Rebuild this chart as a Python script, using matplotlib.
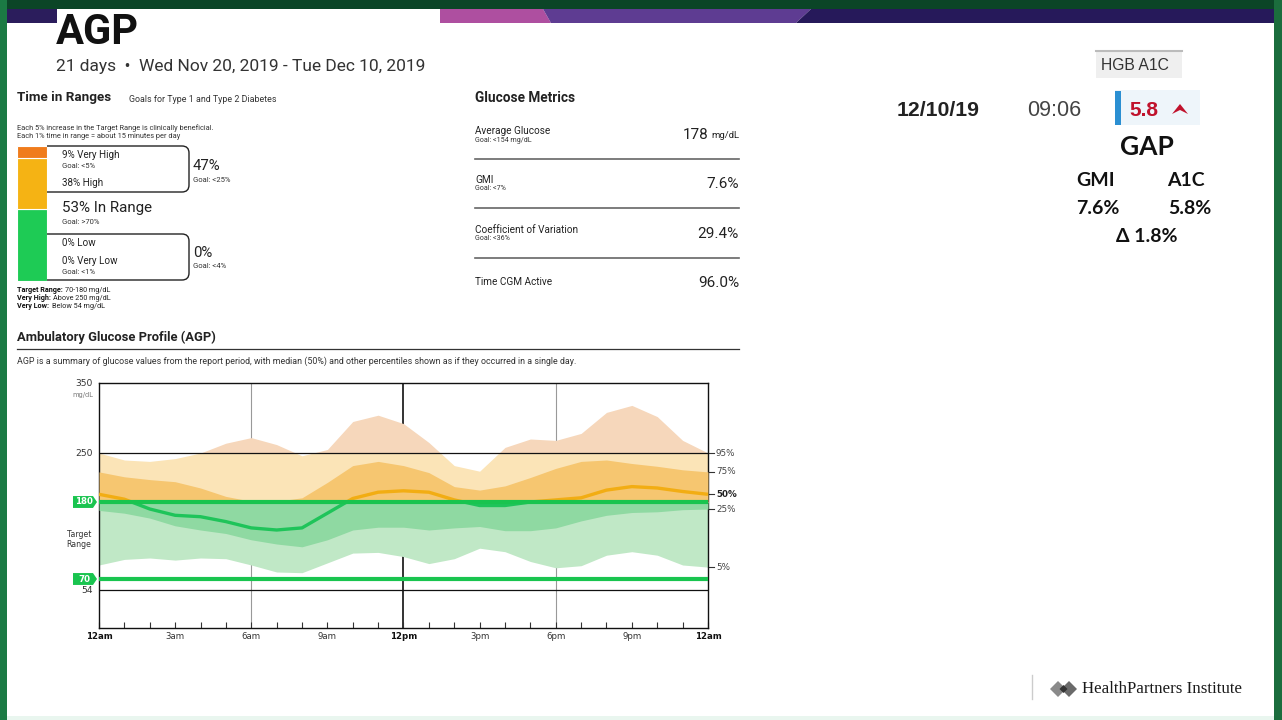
import numpy as np
import matplotlib
matplotlib.use("Agg")
import matplotlib.pyplot as plt
from matplotlib.patches import Rectangle, Polygon, PathPatch
from matplotlib.path import Path
from matplotlib.transforms import Affine2D, blended_transform_factory

# ---------------- data ----------------
report_days = 21
date_range = "Wed Nov 20, 2019 - Tue Dec 10, 2019"

tir_categories = ["Very Low", "Low", "In Range", "High", "Very High"]
tir_values = [0, 0, 53, 38, 9]
tir_colors = ["#c8102e", "#e23a3a", "#1ecb55", "#f5b314", "#f07c1c"]

metric_names = ["Average Glucose", "GMI", "Coefficient of Variation", "Time CGM Active"]
metric_goals = ["Goal: <154 mg/dL", "Goal: <7%", "Goal: <36%", ""]
metric_values = ["178", "7.6%", "29.4%", "96.0%"]
metric_units = ["mg/dL", "", "", ""]

hours = list(range(25))
p95 = [250, 240, 238, 242, 250, 264, 272, 262, 246, 255, 295, 304, 292,
       265, 232, 224, 258, 270, 268, 278, 308, 318, 302, 268, 250]
p75 = [223, 216, 212, 209, 200, 188, 181, 181, 186, 208, 232, 238, 232,
       222, 202, 197, 203, 215, 228, 238, 240, 235, 231, 226, 223]
p50 = [191, 184, 170, 161, 159, 152, 143, 140, 143, 164, 185, 194, 196,
       194, 183, 175, 175, 180, 183, 186, 197, 202, 200, 195, 191]
p25 = [168, 164, 157, 146, 140, 135, 126, 120, 116, 126, 140, 144, 144,
       140, 143, 145, 139, 139, 143, 153, 161, 165, 166, 169, 170]
p5 = [90, 98, 100, 97, 100, 99, 90, 80, 79, 93, 107, 108, 102,
      92, 99, 114, 109, 95, 86, 89, 104, 109, 104, 90, 87]

xtick_hours = [0, 3, 6, 9, 12, 15, 18, 21, 24]
xtick_labels = ["12am", "3am", "6am", "9am", "12pm", "3pm", "6pm", "9pm", "12am"]

lab_date = "12/10/19"
lab_time = "09:06"
lab_a1c = 5.8
gmi_value = 7.6

# ---------------- figure ----------------
W, H = 1282, 720
fig = plt.figure(figsize=(W / 100, H / 100), dpi=100)
fig.patch.set_facecolor("white")
plt.rcParams["font.family"] = ["Roboto", "DejaVu Sans"]
PX = Affine2D().scale(1 / W, -1 / H).translate(0, 1) + fig.transFigure


def T(x, y, s, **kw):
    kw.setdefault("va", "center")
    return fig.text(x, y, s, transform=PX, **kw)


def R(x, y, w, h, **kw):
    r = Rectangle((x, y), w, h, transform=PX, **kw)
    fig.add_artist(r)
    return r


def P(pts, **kw):
    p = Polygon(pts, closed=True, transform=PX, **kw)
    fig.add_artist(p)
    return p


# frame / banner
R(0, 0, W, 9, fc="#0b4527", ec="none")
R(0, 0, 7, H, fc="#1b7a44", ec="none")
R(1274, 0, 8, H, fc="#1b6d3d", ec="none")
R(7, 716, 1267, 4, fc="#e9f6ef", ec="none")
R(7, 9, 50, 14, fc="#2b1d5c", ec="none")
P([(440, 9), (543, 9), (551, 23), (440, 23)], fc="#ae4fa0", ec="none")
P([(543, 9), (811, 9), (796, 23), (551, 23)], fc="#5e3c92", ec="none")
P([(811, 9), (1274, 9), (1274, 23), (796, 23)], fc="#26195a", ec="none")

# header
T(56, 44, "AGP", fontsize=30, fontweight="bold", va="baseline", color="#111")
T(56, 71, f"{report_days} days  \u2022  {date_range}", fontsize=12.5,
  va="baseline", color="#333")

# ---------------- Time in ranges ----------------
SM = 5.5   # small goal text size
T(17, 98, "Time in Ranges", fontsize=9.6, fontweight="bold", color="#222")
T(129, 99, "Goals for Type 1 and Type 2 Diabetes", fontsize=6.4, color="#333")
T(17, 128, "Each 5% increase in the Target Range is clinically beneficial.",
  fontsize=5.35, color="#333")
T(17, 136, "Each 1% time in range = about 15 minutes per day", fontsize=5.35,
  color="#333")

axb = fig.add_axes([17 / W, 1 - 281 / H, 30 / W, 135 / H])
bottom = 0
for v, c in zip(tir_values, tir_colors):
    if v > 0:
        axb.bar(0, v, bottom=bottom, width=1, color=c, edgecolor="white", lw=0.8)
    bottom += v
axb.set_xlim(-0.5, 0.5)
axb.set_ylim(0, 100)
axb.axis("off")


def bracket(y0, y1, xl=47, xr=189, r=7):
    verts = [(xl, y0), (xr - r, y0), (xr, y0), (xr, y0 + r), (xr, y1 - r),
             (xr, y1), (xr - r, y1), (xl, y1)]
    codes = [Path.MOVETO, Path.LINETO, Path.CURVE3, Path.CURVE3, Path.LINETO,
             Path.CURVE3, Path.CURVE3, Path.LINETO]
    fig.add_artist(PathPatch(Path(verts, codes), fill=False, ec="#222", lw=1.0,
                             transform=PX))


bracket(146, 192)
bracket(234, 280)
vl, lo, ir, hi, vh = tir_values
T(62, 155, f"{vh}% Very High", fontsize=7.1, color="#222")
T(62, 166, "Goal: <5%", fontsize=SM, color="#333")
T(62, 183, f"{hi}% High", fontsize=7.1, color="#222")
T(193, 166, f"{vh + hi}%", fontsize=10.7, color="#222")
T(193, 180, "Goal: <25%", fontsize=SM, color="#333")
T(62, 208, f"{ir}% In Range", fontsize=10.9, color="#222")
T(62, 222, "Goal: >70%", fontsize=SM, color="#333")
T(62, 243, f"{lo}% Low", fontsize=7.1, color="#222")
T(62, 261, f"{vl}% Very Low", fontsize=7.1, color="#222")
T(62, 272, "Goal: <1%", fontsize=SM, color="#333")
T(193, 253, f"{vl + lo}%", fontsize=10.7, color="#222")
T(193, 266, "Goal: <4%", fontsize=SM, color="#333")
FN = 5.2
T(17, 290, "Target Range:", fontsize=FN, fontweight="bold", color="#111")
T(65, 290, "70-180 mg/dL", fontsize=FN, color="#222")
T(17, 298, "Very High:", fontsize=FN, fontweight="bold", color="#111")
T(53, 298, "Above 250 mg/dL", fontsize=FN, color="#222")
T(17, 306, "Very Low:", fontsize=FN, fontweight="bold", color="#111")
T(52, 306, "Below 54 mg/dL", fontsize=FN, color="#222")

# ---------------- Glucose metrics ----------------
T(475, 98, "Glucose Metrics", fontsize=9.8, fontweight="bold", color="#222")
rows_y = [135, 184, 234, 283]
for i, (nm, gl, val, un) in enumerate(zip(metric_names, metric_goals,
                                          metric_values, metric_units)):
    y = rows_y[i]
    if gl:
        T(475, y - 4, nm, fontsize=7.2, color="#222")
        T(475, y + 5, gl, fontsize=5.1, color="#333")
    else:
        T(475, y - 1, nm, fontsize=7.2, color="#222")
    if un:
        T(739, y, un, fontsize=6.8, ha="right", color="#222")
        T(708, y, val, fontsize=11, ha="right", color="#222")
    else:
        T(739, y, val, fontsize=11, ha="right", color="#222")
    if i < 3:
        fig.add_artist(plt.Line2D([475, 739], [y + 24, y + 24], transform=PX,
                                  color="#666", lw=1.2))

# ---------------- AGP ----------------
T(17, 337, "Ambulatory Glucose Profile (AGP)", fontsize=9.4, fontweight="bold",
  color="#222")
fig.add_artist(plt.Line2D([17, 739], [349, 349], transform=PX, color="#333", lw=0.9))
T(17, 361, "AGP is a summary of glucose values from the report period, with median "
  "(50%) and other percentiles shown as if they occurred in a single day.",
  fontsize=6.4, color="#333")

X0, X1, Y0, Y1 = 99, 708, 383, 628
ax = fig.add_axes([X0 / W, 1 - Y1 / H, (X1 - X0) / W, (Y1 - Y0) / H])
ax.set_xlim(0, 24)
ax.set_ylim(0, 350)

regions = [(250, 350, "#f6d7bb", "#f1bf98"),
           (180, 250, "#fbe4b7", "#f6c670"),
           (0, 180, "#c0e8c6", "#8fd9a2")]
for lo_, hi_, c_out, c_in in regions:
    clip = Rectangle((0, lo_), 24, hi_ - lo_, transform=ax.transData)
    f1 = ax.fill_between(hours, p5, p95, color=c_out, lw=0, zorder=2)
    f1.set_clip_path(clip)
    clip2 = Rectangle((0, lo_), 24, hi_ - lo_, transform=ax.transData)
    f2 = ax.fill_between(hours, p25, p75, color=c_in, lw=0, zorder=3)
    f2.set_clip_path(clip2)

for lo_, hi_, c in [(180, 350, "#f2ad13"), (0, 180, "#1fc45a")]:
    clip = Rectangle((0, lo_), 24, hi_ - lo_, transform=ax.transData)
    ln, = ax.plot(hours, p50, color=c, lw=2.4, zorder=4, solid_capstyle="butt")
    ln.set_clip_path(clip)

ax.axvline(6, color="#999", lw=0.8, zorder=1)
ax.axvline(18, color="#999", lw=0.8, zorder=1)
ax.axvline(12, color="#111", lw=1.2, zorder=1)
ax.axhline(250, color="#111", lw=0.9, zorder=5)
ax.axhline(54, color="#111", lw=0.9, zorder=1)
ax.axhline(180, color="#19c44f", lw=3.0, zorder=6)
ax.axhline(70, color="#19c44f", lw=3.0, zorder=6)
for s in ax.spines.values():
    s.set_color("#111")
    s.set_linewidth(1.0)
ax.set_yticks([])
ax.set_xticks(xtick_hours)
ax.set_xticks(hours, minor=True)
ax.set_xticklabels(xtick_labels, fontsize=6.2, family="DejaVu Sans", color="#333")
for lab in ax.get_xticklabels():
    if lab.get_text() in ("12am", "12pm"):
        lab.set_fontweight("bold")
        lab.set_color("#111")
ax.tick_params(axis="x", which="both", direction="in", length=4, width=0.8,
               color="#333", pad=3)

bt = blended_transform_factory(ax.transAxes, ax.transData)


def ax_x(px):
    return (px - X0) / (X1 - X0)


def ylab(val, txt, **kw):
    ax.text(ax_x(93), val, txt, transform=bt, ha="right", va="center",
            fontsize=6.6, family="DejaVu Sans", color="#333", clip_on=False, **kw)


ylab(350, "350")
ylab(250, "250")
ylab(54, "54")
ax.text(ax_x(93), 333, "mg/dL", transform=bt, ha="right", va="center",
        fontsize=4.8, family="DejaVu Sans", color="#777", clip_on=False)
ax.text(ax_x(79), 126, "Target\nRange", transform=bt, ha="center", va="center",
        fontsize=5.6, family="DejaVu Sans", color="#333", clip_on=False,
        linespacing=1.1)
for val in (180, 70):
    hh = 8.5
    poly = Polygon([(ax_x(73), val - hh), (ax_x(93), val - hh), (ax_x(97), val),
                    (ax_x(93), val + hh), (ax_x(73), val + hh)], closed=True,
                   transform=bt, fc="#19c44f", ec="none", clip_on=False)
    ax.add_patch(poly)
    ax.text(ax_x(84), val, str(val), transform=bt, ha="center", va="center",
            fontsize=6.2, family="DejaVu Sans", color="white", fontweight="bold",
            clip_on=False)

for val, txt, bold in [(p95[-1], "95%", False), (p75[-1], "75%", False),
                       (p50[-1], "50%", True), (p25[-1], "25%", False),
                       (p5[-1], "5%", False)]:
    ax.plot([ax_x(708), ax_x(714)], [val, val], transform=bt, color="#333",
            lw=0.8, clip_on=False)
    ax.text(ax_x(716), val, txt, transform=bt, ha="left", va="center",
            fontsize=6.3, family="DejaVu Sans", color="#222" if bold else "#444",
            fontweight="bold" if bold else "normal", clip_on=False)

# ---------------- Right panel ----------------
R(1096, 50, 86, 28, fc="#efefef", ec="none")
fig.add_artist(plt.Line2D([1096, 1182], [50.5, 50.5], transform=PX, color="#bbb", lw=1.5))
T(1135, 66, "HGB A1C", fontsize=11.3, ha="center", family="Liberation Sans", color="#333")
T(897, 110, lab_date, fontsize=15.3, fontweight="bold", family="Liberation Sans",
  color="#222")
T(1027, 110, lab_time, fontsize=15.5, family="Liberation Sans", color="#444")
R(1115, 90, 85, 35, fc="#eef5fa", ec="none")
R(1115, 91, 6, 34, fc="#2b8fd2", ec="none")
T(1129, 110, f"{lab_a1c}", fontsize=15, fontweight="bold", family="Liberation Sans",
  color="#c0122c")
P([(1172, 114), (1180, 104), (1188, 114), (1180, 110)], fc="#c0122c", ec="none")

gfam = ["Lato", "DejaVu Sans"]
T(1147, 147, "GAP", fontsize=19, fontweight="bold", ha="center", family=gfam,
  color="#111")
T(1096, 180, "GMI", fontsize=14, fontweight="bold", ha="center", family=gfam,
  color="#111")
T(1186, 180, "A1C", fontsize=14, fontweight="bold", ha="center", family=gfam,
  color="#111")
T(1098, 209, f"{gmi_value}%", fontsize=14, fontweight="bold", ha="center",
  family=gfam, color="#111")
T(1190, 209, f"{lab_a1c}%", fontsize=14, fontweight="bold", ha="center",
  family=gfam, color="#111")
T(1147, 237, f"\u0394 {gmi_value - lab_a1c:.1f}%", fontsize=14, fontweight="bold",
  ha="center", family=gfam, color="#111")

# ---------------- Logo ----------------
fig.add_artist(plt.Line2D([1032, 1032], [675, 699], transform=PX, color="#ccc", lw=1))
P([(1050, 689), (1058, 681), (1066, 689), (1058, 697)], fc="#8a8a8a", ec="none")
P([(1061, 689), (1069, 681), (1077, 689), (1069, 697)], fc="#6a6a6a", ec="none")
P([(1059.5, 689), (1063.5, 685), (1067.5, 689), (1063.5, 693)], fc="#333", ec="none")
T(1082, 689, "HealthPartners Institute", fontsize=12.2, family="Liberation Serif",
  color="#1a1a1a")

fig.savefig("out.png", dpi=100, facecolor=fig.get_facecolor())
